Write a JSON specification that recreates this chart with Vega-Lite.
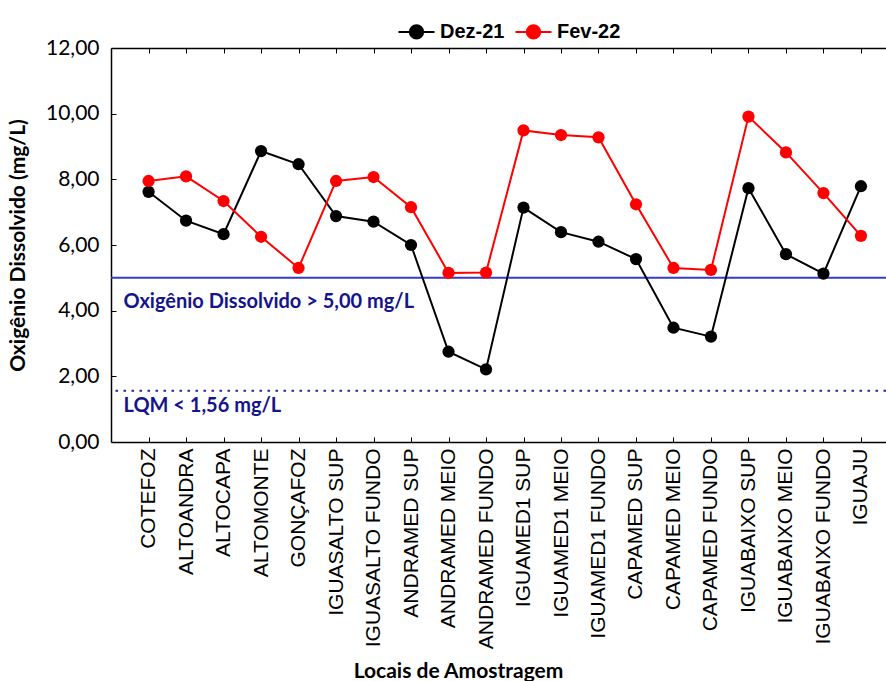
{
  "$schema": "https://vega.github.io/schema/vega-lite/v6.json",
  "width": 775,
  "height": 394,
  "autosize": {"type": "none"},
  "padding": {"left": 111, "top": 48, "right": 0, "bottom": 239},
  "background": "white",
  "config": {"view": {"stroke": null}},
  "datasets": {
    "od": [
      {"local": "COTEFOZ", "mes": "Dez-21", "od": 7.62},
      {"local": "ALTOANDRA", "mes": "Dez-21", "od": 6.74},
      {"local": "ALTOCAPA", "mes": "Dez-21", "od": 6.33},
      {"local": "ALTOMONTE", "mes": "Dez-21", "od": 8.86},
      {"local": "GONÇAFOZ", "mes": "Dez-21", "od": 8.46},
      {"local": "IGUASALTO SUP", "mes": "Dez-21", "od": 6.88},
      {"local": "IGUASALTO FUNDO", "mes": "Dez-21", "od": 6.71},
      {"local": "ANDRAMED SUP", "mes": "Dez-21", "od": 6.0},
      {"local": "ANDRAMED MEIO", "mes": "Dez-21", "od": 2.75},
      {"local": "ANDRAMED FUNDO", "mes": "Dez-21", "od": 2.21},
      {"local": "IGUAMED1 SUP", "mes": "Dez-21", "od": 7.14},
      {"local": "IGUAMED1 MEIO", "mes": "Dez-21", "od": 6.39},
      {"local": "IGUAMED1 FUNDO", "mes": "Dez-21", "od": 6.1},
      {"local": "CAPAMED SUP", "mes": "Dez-21", "od": 5.57},
      {"local": "CAPAMED MEIO", "mes": "Dez-21", "od": 3.48},
      {"local": "CAPAMED FUNDO", "mes": "Dez-21", "od": 3.21},
      {"local": "IGUABAIXO SUP", "mes": "Dez-21", "od": 7.73},
      {"local": "IGUABAIXO MEIO", "mes": "Dez-21", "od": 5.72},
      {"local": "IGUABAIXO FUNDO", "mes": "Dez-21", "od": 5.13},
      {"local": "IGUAJU", "mes": "Dez-21", "od": 7.79},
      {"local": "COTEFOZ", "mes": "Fev-22", "od": 7.95},
      {"local": "ALTOANDRA", "mes": "Fev-22", "od": 8.09},
      {"local": "ALTOCAPA", "mes": "Fev-22", "od": 7.34},
      {"local": "ALTOMONTE", "mes": "Fev-22", "od": 6.25},
      {"local": "GONÇAFOZ", "mes": "Fev-22", "od": 5.3},
      {"local": "IGUASALTO SUP", "mes": "Fev-22", "od": 7.95},
      {"local": "IGUASALTO FUNDO", "mes": "Fev-22", "od": 8.07},
      {"local": "ANDRAMED SUP", "mes": "Fev-22", "od": 7.15},
      {"local": "ANDRAMED MEIO", "mes": "Fev-22", "od": 5.15},
      {"local": "ANDRAMED FUNDO", "mes": "Fev-22", "od": 5.16},
      {"local": "IGUAMED1 SUP", "mes": "Fev-22", "od": 9.49},
      {"local": "IGUAMED1 MEIO", "mes": "Fev-22", "od": 9.35},
      {"local": "IGUAMED1 FUNDO", "mes": "Fev-22", "od": 9.28},
      {"local": "CAPAMED SUP", "mes": "Fev-22", "od": 7.24},
      {"local": "CAPAMED MEIO", "mes": "Fev-22", "od": 5.3},
      {"local": "CAPAMED FUNDO", "mes": "Fev-22", "od": 5.24},
      {"local": "IGUABAIXO SUP", "mes": "Fev-22", "od": 9.91},
      {"local": "IGUABAIXO MEIO", "mes": "Fev-22", "od": 8.82},
      {"local": "IGUABAIXO FUNDO", "mes": "Fev-22", "od": 7.58},
      {"local": "IGUAJU", "mes": "Fev-22", "od": 6.28}
    ],
    "limite": [{"y": 5}],
    "lqm": [{"y": 1.56}],
    "notas": [
      {"local": "COTEFOZ", "y": 4.26, "label": "Oxigênio Dissolvido > 5,00 mg/L"},
      {"local": "COTEFOZ", "y": 1.1, "label": "LQM < 1,56 mg/L"}
    ]
  },
  "layer": [
    {
      "data": {"name": "limite"},
      "mark": {"type": "rule", "color": "#3a3ac8", "strokeWidth": 2},
      "encoding": {
        "y": {
          "field": "y",
          "type": "quantitative",
          "scale": {"domain": [0, 12], "nice": false},
          "axis": {
            "values": [0, 1, 2, 3, 4, 5, 6, 7, 8, 9, 10, 11, 12],
            "labelExpr": "datum.value % 2 === 0 ? replace(format(datum.value, '.2f'), '.', ',') : ''",
            "tickSize": {"condition": {"test": "datum.value % 2 === 0", "value": -5}, "value": -3},
            "tickColor": "black",
            "domainColor": "black",
            "domainWidth": 1.5,
            "grid": false,
            "labelFont": "Lato",
            "labelFontSize": 21,
            "labelColor": "black",
            "labelPadding": 17,
            "title": "Oxigênio Dissolvido (mg/L)",
            "titleFont": "Lato",
            "titleFontSize": 21,
            "titleFontWeight": "bold",
            "titleColor": "black",
            "titleX": -93,
            "titleBaseline": "middle"
          }
        }
      }
    },
    {
      "data": {"name": "lqm"},
      "mark": {"type": "rule", "color": "#2424a8", "strokeWidth": 2, "strokeDash": [2.5, 5.5]},
      "encoding": {
        "y": {"field": "y", "type": "quantitative"}
      }
    },
    {
      "data": {"name": "notas"},
      "mark": {"type": "text", "align": "left", "baseline": "middle", "dx": -25, "font": "Lato", "fontWeight": "bold", "fontSize": 20, "color": "#14148c"},
      "encoding": {
        "x": {"field": "local", "type": "nominal", "axis": {"orient": "top", "labels": false, "title": null, "domainColor": "black", "domainWidth": 1.5, "tickColor": "black", "tickSize": -5}},
        "y": {"field": "y", "type": "quantitative"},
        "text": {"field": "label"}
      }
    },
    {
      "data": {"name": "od"},
      "mark": {"type": "line", "strokeWidth": 2, "point": {"filled": true, "size": 150, "opacity": 1}},
      "encoding": {
        "x": {
          "field": "local",
          "type": "nominal",
          "sort": null,
          "scale": {
            "type": "point",
            "domain": ["COTEFOZ", "ALTOANDRA", "ALTOCAPA", "ALTOMONTE", "GONÇAFOZ", "IGUASALTO SUP", "IGUASALTO FUNDO", "ANDRAMED SUP", "ANDRAMED MEIO", "ANDRAMED FUNDO", "IGUAMED1 SUP", "IGUAMED1 MEIO", "IGUAMED1 FUNDO", "CAPAMED SUP", "CAPAMED MEIO", "CAPAMED FUNDO", "IGUABAIXO SUP", "IGUABAIXO MEIO", "IGUABAIXO FUNDO", "IGUAJU"],
            "padding": 0.835,
            "align": 0.6
          },
          "axis": {
            "orient": "bottom",
            "title": "Locais de Amostragem",
            "titleFont": "Lato",
            "titleFontSize": 21,
            "titleFontWeight": "bold",
            "titleColor": "black",
            "titleX": 347,
            "titleY": 229,
            "titleAlign": "center",
            "titleBaseline": "middle",
            "labelAngle": -90,
            "labelAlign": "right",
            "labelBaseline": "middle",
            "labelFont": "Liberation Sans",
            "labelFontSize": 21,
            "labelLimit": 0,
            "labelColor": "black",
            "labelPadding": 11,
            "domainColor": "black",
            "domainWidth": 1.5,
            "tickColor": "black",
            "tickSize": -5,
            "grid": false
          }
        },
        "y": {"field": "od", "type": "quantitative"},
        "color": {
          "field": "mes",
          "type": "nominal",
          "scale": {"domain": ["Dez-21", "Fev-22"], "range": ["black", "red"]},
          "legend": {
            "orient": "none",
            "legendX": 286,
            "legendY": -36,
            "direction": "horizontal",
            "title": null,
            "symbolType": "M-1,0H1M0.37,0A0.37,0.37 0 1,1 -0.37,0A0.37,0.37 0 1,1 0.37,0Z",
            "symbolSize": 1300,
            "symbolStrokeWidth": 2,
            "labelFont": "Liberation Sans",
            "labelFontSize": 20,
            "labelFontWeight": "bold",
            "labelColor": "black",
            "labelOffset": 4,
            "columnPadding": 6,
            "encode": {
              "symbols": {"update": {"fill": {"scale": "color", "field": "value"}, "stroke": {"scale": "color", "field": "value"}, "opacity": {"value": 1}}}
            }
          }
        }
      }
    }
  ]
}
